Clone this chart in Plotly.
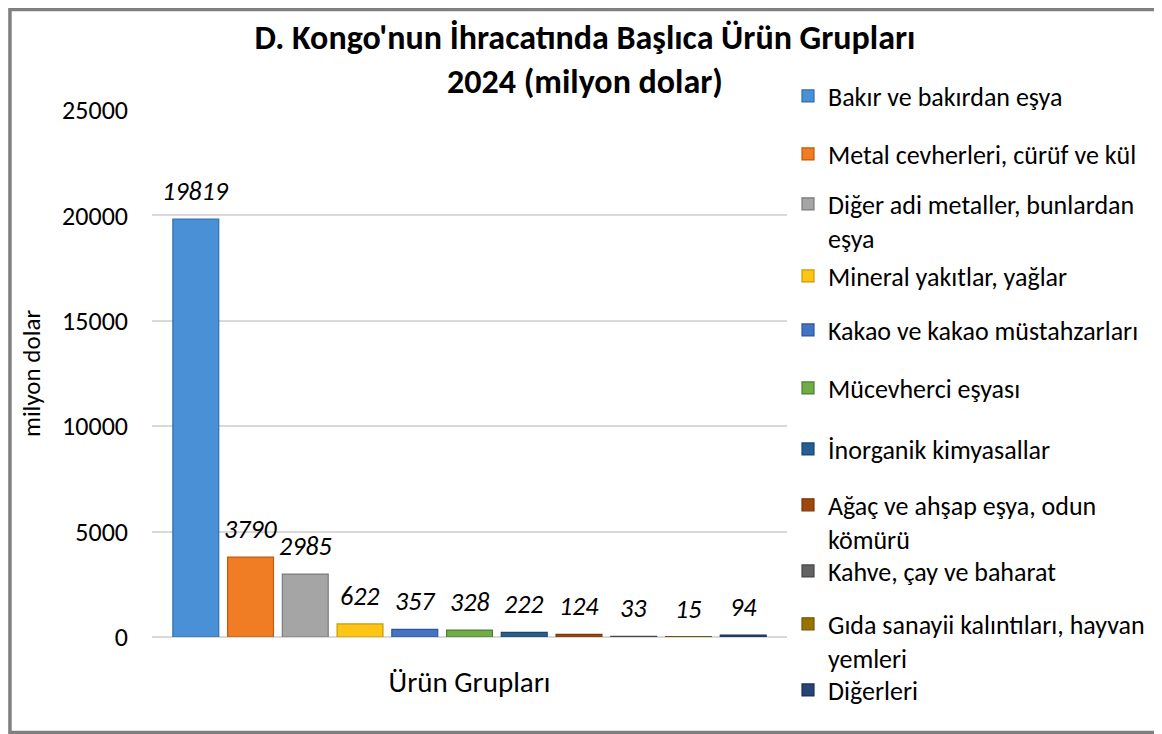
import plotly.graph_objects as go

# ---- data ----
categories = [
    "Bakır ve bakırdan eşya",
    "Metal cevherleri, cürüf ve kül",
    "Diğer adi metaller, bunlardan<br>eşya",
    "Mineral yakıtlar, yağlar",
    "Kakao ve kakao müstahzarları",
    "Mücevherci eşyası",
    "İnorganik kimyasallar",
    "Ağaç ve ahşap eşya, odun<br>kömürü",
    "Kahve, çay ve baharat",
    "Gıda sanayii kalıntıları, hayvan<br>yemleri",
    "Diğerleri",
]
values = [19819, 3790, 2985, 622, 357, 328, 222, 124, 33, 15, 94]
y_ticks = [0, 5000, 10000, 15000, 20000, 25000]

# ---- styles ----
colors = ["#4A90D6", "#F07C24", "#A5A5A5", "#FFC514", "#4472C4", "#70AD47",
          "#255E91", "#9E480E", "#636363", "#997300", "#264478"]
edges = ["#2F6EAD", "#C2590F", "#7A7A7A", "#C99A00", "#2F5597", "#507E32",
         "#1A4670", "#7A370A", "#474747", "#735600", "#1A3055"]
FONT = "Carlito, Lato, sans-serif"

# the page body has an 8px margin: design in screen px, shift by OFF
OFF = 8
W, H = 1162 - OFF, 734 - OFF
PLOT_L, PLOT_R, PLOT_T, PLOT_B = 152 - OFF, 789 - OFF, 110 - OFF, 637 - OFF
ML, MR, MT, MB = PLOT_L, W - PLOT_R, PLOT_T, H - PLOT_B
PW, PH = PLOT_R - PLOT_L, PLOT_B - PLOT_T


def paper_x(px):
    return (px - OFF - ML) / PW


def paper_y(py):
    return (PLOT_B - (py - OFF)) / PH


# legend first-line centre positions (screen pixels)
legend_rows = [96, 154, 204, 276, 330, 388, 449, 505, 571, 624, 690]
LEG_FONT = 26
LINE_H = 1.3 * LEG_FONT

fig = go.Figure()
layout_legends = {}
for i, (name, val) in enumerate(zip(categories, values)):
    key = "legend" if i == 0 else f"legend{i + 1}"
    fig.add_trace(go.Bar(
        x=[name], y=[val], name=name,
        marker=dict(color=colors[i], line=dict(color=edges[i], width=1.2)),
        legend=key, showlegend=True, hoverinfo="y+name",
    ))
    nlines = name.count("<br>") + 1
    ycen = legend_rows[i] + (nlines - 1) * LINE_H / 2
    layout_legends[key] = dict(
        x=paper_x(790), y=paper_y(ycen), xanchor="left", yanchor="middle",
        font=dict(family=FONT, size=LEG_FONT, color="#000000"),
        bgcolor="rgba(0,0,0,0)", borderwidth=0, valign="top",
        itemclick=False, itemdoubleclick=False,
    )
    fig.add_annotation(
        x=name, y=val, text=str(val), showarrow=False,
        xref="x", yref="y", yanchor="bottom", yshift=10,
        font=dict(family=FONT, size=26, color="#000000", style="italic"),
    )

fig.update_layout(
    width=W, height=H,
    margin=dict(l=ML, r=MR, t=MT, b=MB, pad=0),
    paper_bgcolor="#FFFFFF", plot_bgcolor="#FFFFFF",
    barmode="overlay", bargap=0.162,
    font=dict(family=FONT, color="#000000"),
    title=dict(
        text="D. Kongo'nun İhracatında Başlıca Ürün Grupları<br>2024 (milyon dolar)",
        x=(585 - OFF) / W, xanchor="center", xref="container",
        y=1 - 41 / H, yanchor="top", yref="container",
        font=dict(family=FONT, size=34, color="#000000", weight="bold"),
    ),
    xaxis=dict(
        showticklabels=False, showgrid=False, zeroline=False, showline=False,
        range=[-0.8, len(categories) - 1 + 0.8], fixedrange=True,
        title=dict(text="Ürün Grupları", standoff=34,
                   font=dict(family=FONT, size=29, color="#000000")),
    ),
    yaxis=dict(
        range=[0, 25000], tickvals=y_ticks, tickformat="d",
        showgrid=True, gridcolor="#D9D9D9", gridwidth=1.5,
        zeroline=True, zerolinecolor="#D9D9D9", zerolinewidth=1.5,
        showline=False, ticks="", ticklabelstandoff=23,
        tickfont=dict(family=FONT, size=26, color="#000000"),
        title=dict(text="milyon dolar", standoff=14,
                   font=dict(family=FONT, size=25, color="#000000")),
        fixedrange=True,
    ),
    showlegend=True,
    **layout_legends,
)

# chart frame
fig.add_shape(
    type="rect", xref="paper", yref="paper",
    x0=paper_x(9.5), x1=paper_x(1175), y0=paper_y(732.5), y1=paper_y(9.6),
    line=dict(color="#808080", width=3.5), fillcolor="rgba(0,0,0,0)", layer="above",
)

fig.write_html("out.html")
